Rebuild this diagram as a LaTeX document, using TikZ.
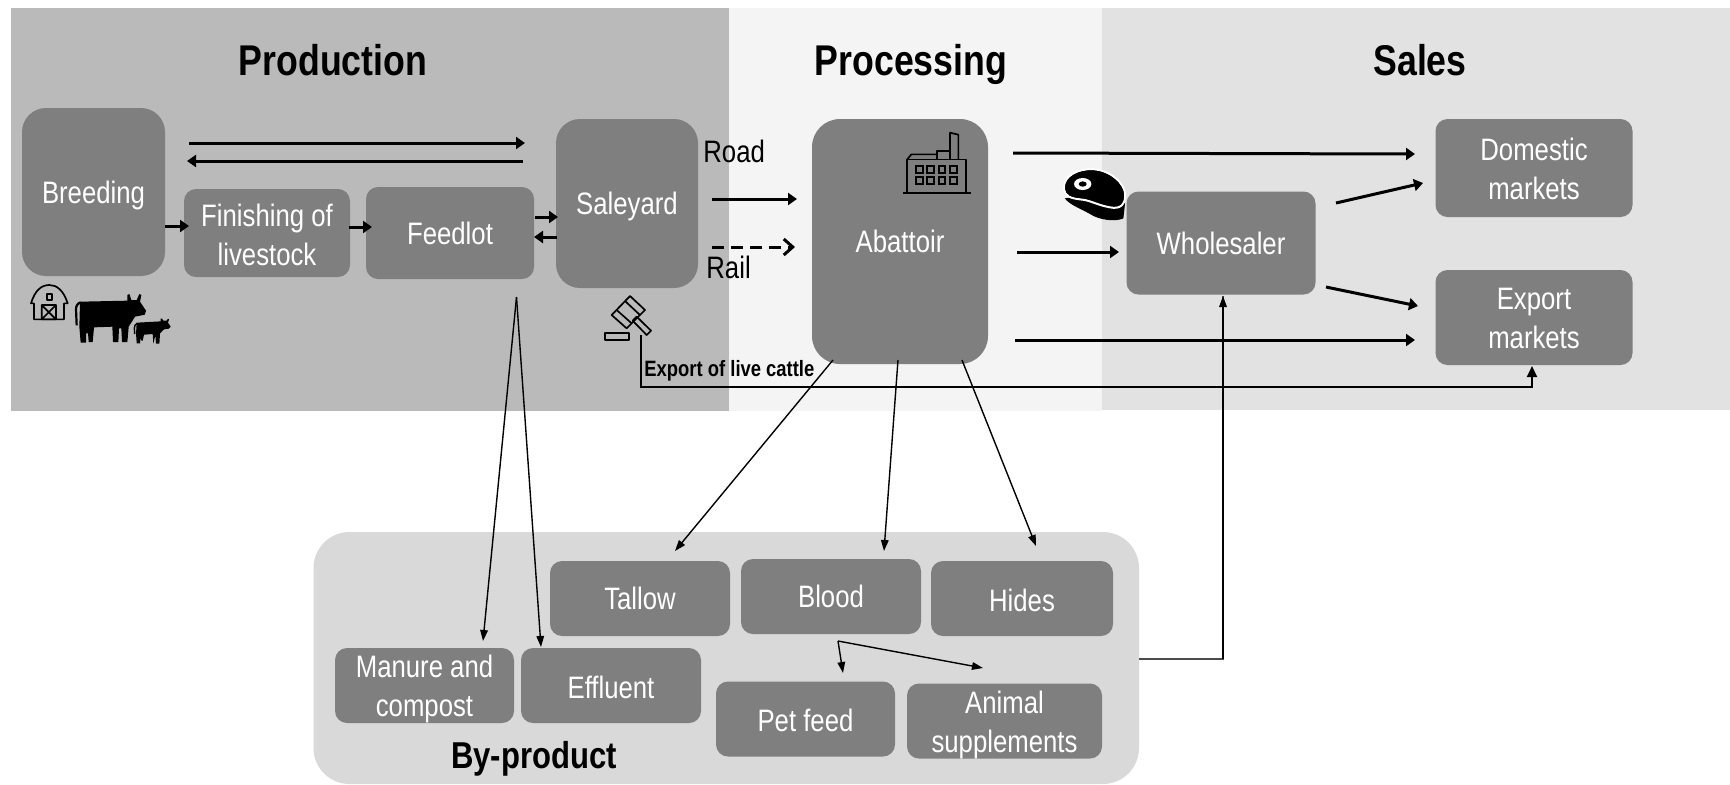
\documentclass[tikz,border=0pt]{standalone}
\usepackage{fontspec}
\setmainfont{Liberation Sans}[FakeStretch=0.83]
\usetikzlibrary{arrows.meta}
\definecolor{boxgrey}{HTML}{7F7F7F}
\definecolor{prodband}{HTML}{BABABA}
\definecolor{procband}{HTML}{F4F4F4}
\definecolor{salesband}{HTML}{E2E2E2}
\definecolor{byband}{HTML}{D9D9D9}
\newcommand\dn[2]{\raisebox{-#1}[\height][\depth]{#2}}
\tikzset{
  band/.style={fill=#1,draw=none,inner sep=0pt,outer sep=0pt},
  rbox/.style={fill=boxgrey,draw=none,text=white,align=center,inner sep=0pt,
    rounded corners=#1,font=\fontsize{15.5}{19.5}\selectfont},
  rbox/.default=6pt,
  head/.style={font=\fontsize{21.5}{24}\selectfont\bfseries,inner sep=0pt,anchor=base},
  lbl/.style={font=\fontsize{15.5}{19}\selectfont,inner sep=0pt},
  thick arrow/.style={line width=1.5pt,-{Triangle[length=4.5pt,width=6pt]}},
  thin arrow/.style={line width=0.7pt,-{Triangle[length=5.5pt,width=3.8pt]}},
  icon/.style={line width=0.85pt,draw=black,line join=round},
}
\begin{document}
\begin{tikzpicture}[x=0.5pt,y=-0.5pt]
\useasboundingbox (0,0) rectangle (1730,784);
% bands
\node[band=prodband,minimum width=359pt,minimum height=201.5pt] (production) at (370,209.5) {};
\node[band=procband,minimum width=186.5pt,minimum height=201.5pt] (processing) at (915.5,209.5) {};
\node[band=salesband,minimum width=314pt,minimum height=201pt] (sales) at (1416,209) {};
\node[band=byband,rounded corners=18pt,minimum width=412.75pt,minimum height=126pt] (byproduct) at (726.25,658) {};
% headers
\node[head] (hprod) at (333,75) {Production};
\node[head] (hproc) at (911,75) {Processing};
\node[head] (hsales) at (1420,75) {Sales};
\node[inner sep=0pt,font=\fontsize{18.7}{22}\selectfont\bfseries] (hby) at (534,759) {By-product};
% boxes
\node[rbox=12pt,minimum width=71.5pt,minimum height=84pt] (breeding) at (93.5,192) {\dn{1.6pt}{Breeding}};
\node[rbox,minimum width=83pt,minimum height=44pt] (finishing) at (267,233) {\dn{1pt}{Finishing of}\\\dn{1pt}{livestock}};
\node[rbox,minimum width=84pt,minimum height=46pt] (feedlot) at (450,233) {Feedlot};
\node[rbox=12pt,minimum width=71pt,minimum height=84.5pt] (saleyard) at (627,203.5) {\dn{1.6pt}{Saleyard}};
\node[rbox=14pt,minimum width=88pt,minimum height=122.5pt] (abattoir) at (900,241.5) {Abattoir};
\node[rbox,minimum width=94.5pt,minimum height=51.5pt] (wholesaler) at (1221,243) {Wholesaler};
\node[rbox,minimum width=98.5pt,minimum height=49pt] (domestic) at (1534,168) {\dn{0.5pt}{Domestic}\\\dn{0.5pt}{markets}};
\node[rbox,minimum width=98.5pt,minimum height=47.5pt] (export) at (1534,317.5) {\dn{0.4pt}{Export}\\\dn{0.4pt}{markets}};
\node[rbox,minimum width=90pt,minimum height=37.5pt] (tallow) at (640,598.5) {Tallow};
\node[rbox,minimum width=90pt,minimum height=37.5pt] (blood) at (831,596.5) {Blood};
\node[rbox,minimum width=91pt,minimum height=37.5pt] (hides) at (1022,598.5) {\dn{1pt}{Hides}};
\node[rbox,minimum width=89.5pt,minimum height=37.5pt] (manure) at (424.5,685.5) {\dn{1.9pt}{Manure and}\\\dn{1.9pt}{compost}};
\node[rbox,minimum width=90pt,minimum height=37.5pt] (effluent) at (611,685.5) {\dn{1.1pt}{Effluent}};
\node[rbox,minimum width=89.5pt,minimum height=37.5pt] (petfeed) at (805.5,719) {\dn{0.6pt}{Pet feed}};
\node[rbox,minimum width=97.5pt,minimum height=37.5pt] (animal) at (1004.5,721) {\dn{1.9pt}{Animal}\\\dn{1.9pt}{supplements}};
% labels
\node[lbl,anchor=west] (road) at (703,151.5) {Road};
\node[lbl,anchor=west] (rail) at (706,267) {Rail};
\node[inner sep=0pt,anchor=west,font=\fontsize{11.1}{13}\selectfont\bfseries] (livecattle) at (644,371) {Export of live cattle};
% free ends of connectors
\coordinate (tS) at (189,143); \coordinate (tE) at (525,143);
\coordinate (uS) at (523,161); \coordinate (uE) at (187,161);
\coordinate (bfS) at (165,226); \coordinate (bfE) at (189,226);
\coordinate (ffS) at (349,227); \coordinate (ffE) at (372,227);
\coordinate (fsS) at (535,217); \coordinate (fsE) at (558,217);
\coordinate (sfS) at (557,237); \coordinate (sfE) at (534,237);
\coordinate (roadS) at (712,199); \coordinate (roadE) at (797,199);
\coordinate (railS) at (712,247); \coordinate (railE) at (795,247);
\coordinate (adS) at (1013,153); \coordinate (adE) at (1415,154);
\coordinate (awS) at (1017,252); \coordinate (awE) at (1119,252);
\coordinate (aeS) at (1015,340); \coordinate (aeE) at (1415,340);
\coordinate (wdS) at (1336,203); \coordinate (wdE) at (1423,183);
\coordinate (weS) at (1326,287); \coordinate (weE) at (1418,306);
\coordinate (gavel) at (640.5,335); \coordinate (lc1) at (640.5,387); \coordinate (lc2) at (1532,387); \coordinate (lcE) at (1532,366);
\coordinate (flA) at (516.5,297); \coordinate (mE) at (483,641); \coordinate (eE) at (541,647);
\coordinate (a1) at (833,360); \coordinate (tE2) at (675,551);
\coordinate (a2) at (898,360); \coordinate (bE2) at (884,551);
\coordinate (a3) at (962,360); \coordinate (hE2) at (1036,546);
\coordinate (bA) at (838,641); \coordinate (pE) at (843,673); \coordinate (anE) at (983,668);
\coordinate (byS) at (1139,659); \coordinate (by1) at (1223,659); \coordinate (wE) at (1223,296);
% thick connectors
\draw[thick arrow] (tS) -- (tE);
\draw[thick arrow] (uS) -- (uE);
\draw[thick arrow] (bfS) -- (bfE);
\draw[thick arrow] (ffS) -- (ffE);
\draw[thick arrow] (fsS) -- (fsE);
\draw[thick arrow] (sfS) -- (sfE);
\draw[thick arrow] (roadS) -- (roadE);
\draw[line width=1.5pt,dash pattern=on 6pt off 3.5pt,-{Straight Barb[length=4.5pt,width=8pt]}] (railS) -- (railE);
\draw[thick arrow] (adS) -- (adE);
\draw[thick arrow] (awS) -- (awE);
\draw[thick arrow] (aeS) -- (aeE);
\draw[thick arrow] (wdS) -- (wdE);
\draw[thick arrow] (weS) -- (weE);
% thin connectors
\draw[thin arrow] (flA) -- (mE);
\draw[thin arrow] (flA) -- (eE);
\draw[thin arrow] (a1) -- (tE2);
\draw[thin arrow] (a2) -- (bE2);
\draw[thin arrow] (a3) -- (hE2);
\draw[thin arrow] (bA) -- (pE);
\draw[thin arrow] (bA) -- (anE);
\draw[line width=0.8pt,draw=black!70] (byS) -- (by1) -- (wE);
\draw[thin arrow] (by1) -- (wE);
\draw[line width=1pt,-{Triangle[length=5.5pt,width=5pt]}] (gavel) -- (lc1) -- (lc2) -- (lcE);
% barn and cows
\begin{scope}[shift={(20,270)},x=0.1667pt,y=-0.1667pt]
  \draw[icon] (42,148) -- (42,100) -- (33,100) .. controls (45,60) and (65,45) .. (88,45) .. controls (110,45) and (130,60) .. (143,100) -- (132,100) -- (132,148) -- cycle;
  \draw[icon] (65,105) rectangle (108,148) (65,105) -- (108,148) (65,148) -- (108,105);
  \draw[icon] (80,72) rectangle (96,90);
  \fill (180,95) -- (322,92) -- (322,75) -- (328,72) -- (334,90) -- (350,90) -- (358,72) -- (364,75) -- (360,95) -- (378,122) -- (374,134) -- (345,140) -- (326,170) -- (322,216) -- (306,216) -- (304,175) -- (297,175) -- (295,216) -- (279,216) -- (277,170) -- (222,172) -- (218,216) -- (206,216) -- (204,190) -- (198,190) -- (198,218) -- (182,218) -- (178,170) -- cycle;
  \draw[line width=1.1pt] (182,97) .. controls (172,100) and (168,108) .. (168,118) -- (170,166);
  \fill (350,158) -- (422,154) -- (422,146) -- (426,146) -- (430,152) -- (440,152) -- (444,146) -- (447,148) -- (444,158) -- (452,170) -- (446,176) -- (432,178) -- (420,190) -- (418,221) -- (408,221) -- (406,196) -- (400,221) -- (398,192) -- (372,194) -- (368,212) -- (364,212) -- (362,202) -- (360,220) -- (350,220) -- (348,190) -- cycle;
  \draw[line width=0.7pt] (352,160) .. controls (346,162) and (343,168) .. (343,174) -- (344,192);
\end{scope}
% gavel
\begin{scope}[shift={(590,280)},x=0.1667pt,y=-0.1667pt]
  \draw[icon] (120,48) -- (165,90) -- (110,145) -- (65,105) -- cycle;
  \draw[icon] (105,63) -- (150,105);
  \draw[icon] (80,90) -- (125,130);
  \draw[icon] (128,122) -- (140,110) -- (183,152) -- (170,165) -- cycle;
  \draw[icon] (46,158) rectangle (117,180);
\end{scope}
% factory and meat
\begin{scope}[shift={(890,120)},x=0.1667pt,y=-0.1667pt]
  \draw[icon] (52,118) rectangle (228,218);
  \draw[icon] (38,218) -- (242,218);
  \draw[icon] (180,118) -- (180,38) -- (205,44) -- (205,118);
  \draw[icon] (140,118) -- (140,92) -- (180,92);
  \draw[icon] (52,118) -- (64,103) -- (140,103);
  \foreach \wx in {78,112,146,180} \foreach \wy in {138,172}
    \draw[line width=0.9pt] (\wx,\wy) rectangle ++(20,20);
  \fill (524,235) .. controls (540,255) and (570,265) .. (600,282) .. controls (630,302) and (680,305) .. (700,295) -- (705,250) -- (600,225) -- cycle;
  \draw[white,line width=1pt,fill=black] (522,205) .. controls (520,165) and (570,145) .. (610,148) .. controls (660,150) and (705,190) .. (705,225) .. controls (705,255) and (690,268) .. (660,262) .. controls (620,255) and (600,240) .. (570,238) .. controls (545,235) and (524,230) .. (522,205) -- cycle;
  \draw[black,line width=0.6pt] (527,205) .. controls (525,170) and (570,150) .. (610,153) .. controls (655,156) and (700,192) .. (700,225) .. controls (700,250) and (688,260) .. (660,255) .. controls (622,248) and (600,232) .. (570,232) .. controls (545,230) and (530,225) .. (527,205) -- cycle;
  \fill[white] (578,192) ellipse (26 and 18);
  \fill[black] (578,192) ellipse (12 and 8);
\end{scope}
\end{tikzpicture}
\end{document}
